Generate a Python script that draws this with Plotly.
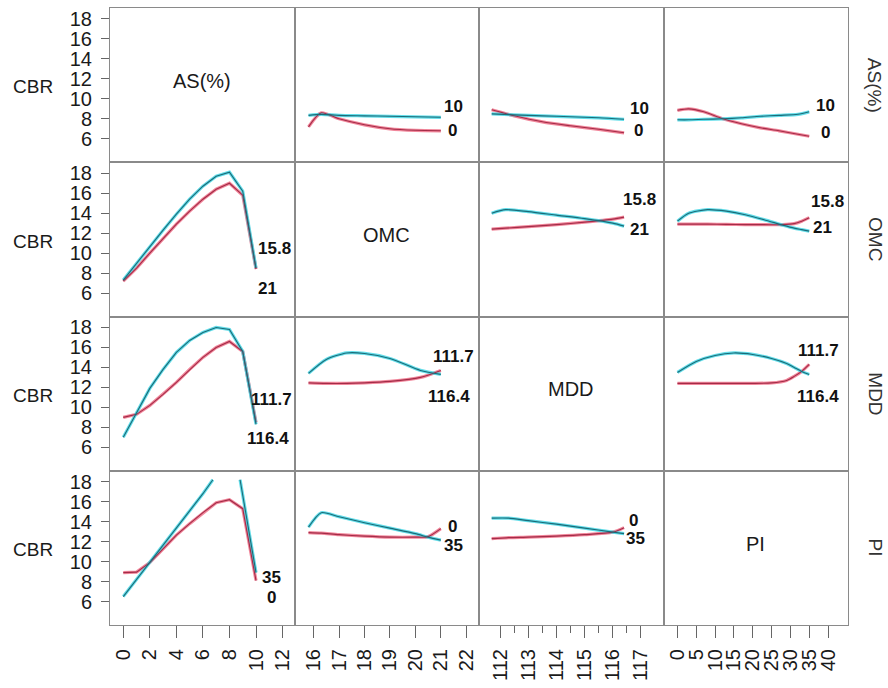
import plotly.graph_objects as go
from plotly.subplots import make_subplots

# ---------------- data ----------------
factors = ["AS(%)", "OMC", "MDD", "PI"]
response = "CBR"
level_low = ["0", "15.8", "111.7", "0"]      # red curves
level_high = ["10", "21", "116.4", "35"]     # cyan curves

ticks_as = [0, 2, 4, 6, 8, 10, 12]
ticks_omc = [16, 17, 18, 19, 20, 21, 22]
ticks_mdd = [112, 113, 114, 115, 116, 117]
ticks_mdd_minor = [112.5, 113.5, 114.5, 115.5, 116.5]
ticks_pi = [0, 5, 10, 15, 20, 25, 30, 35, 40]
ticks_cbr = [6, 8, 10, 12, 14, 16, 18]

as_x = [0, 1, 2, 3, 4, 5, 6, 7, 8, 9, 10]

# row AS(%)
as_omc_x = [15.8, 16.3, 17, 18, 19, 20, 21]
as_omc_low = [7.2, 8.6, 8.0, 7.4, 7.0, 6.85, 6.8]
as_omc_high = [8.35, 8.45, 8.35, 8.3, 8.25, 8.2, 8.15]
as_mdd_x = [111.7, 112.5, 113.5, 114.5, 115.5, 116.4]
as_mdd_low = [8.9, 8.3, 7.7, 7.3, 6.95, 6.6]
as_mdd_high = [8.5, 8.4, 8.3, 8.2, 8.1, 7.95]
as_pi_x = [0, 3, 7, 12, 17, 22, 27, 32, 35]
as_pi_low = [8.85, 9.0, 8.7, 8.0, 7.5, 7.1, 6.8, 6.45, 6.25]
as_pi_high = [7.9, 7.9, 7.95, 8.0, 8.1, 8.25, 8.35, 8.45, 8.7]

# row OMC
omc_as_low = [7.2, 8.5, 10.0, 11.5, 12.9, 14.2, 15.4, 16.4, 17.0, 15.8, 8.4]
omc_as_high = [7.3, 9.0, 10.7, 12.3, 13.9, 15.4, 16.7, 17.7, 18.1, 16.2, 8.5]
omc_mdd_x = [111.7, 112.2, 113, 114, 115, 116, 116.4]
omc_mdd_low = [12.4, 12.5, 12.65, 12.85, 13.1, 13.4, 13.6]
omc_mdd_high = [14.0, 14.35, 14.15, 13.8, 13.45, 13.0, 12.7]
omc_pi_x = [0, 3, 8, 13, 18, 23, 28, 31, 33, 35]
omc_pi_low = [12.9, 12.9, 12.9, 12.88, 12.85, 12.85, 12.85, 12.95, 13.2, 13.55]
omc_pi_high = [13.2, 14.0, 14.35, 14.2, 13.85, 13.35, 12.8, 12.5, 12.35, 12.2]

# row MDD
mdd_as_low = [9.0, 9.3, 10.2, 11.3, 12.5, 13.8, 15.0, 16.0, 16.6, 15.6, 8.5]
mdd_as_high = [7.0, 9.5, 11.9, 13.8, 15.5, 16.7, 17.5, 18.0, 17.8, 15.6, 8.3]
mdd_omc_x = [15.8, 16.5, 17.3, 18, 19, 20.2, 21]
mdd_omc_low = [12.45, 12.4, 12.4, 12.45, 12.6, 13.0, 13.7]
mdd_omc_high = [13.4, 14.8, 15.45, 15.4, 14.9, 13.7, 13.3]
mdd_pi_x = [0, 5, 10, 15, 20, 25, 29, 31, 33, 35]
mdd_pi_low = [12.4, 12.4, 12.4, 12.4, 12.4, 12.45, 12.7, 13.1, 13.6, 14.3]
mdd_pi_high = [13.5, 14.6, 15.2, 15.45, 15.3, 14.9, 14.4, 14.0, 13.6, 13.3]

# row PI (cyan goes off the top of the chart between AS 6.75 and 8.8)
pi_as_low = [8.9, 8.95, 9.9, 11.3, 12.65, 13.8, 14.9, 15.9, 16.2, 15.3, 8.1]
pi_as_high_x = [0, 1, 2, 3, 4, 5, 6, 6.75, 8, 8.8, 10]
pi_as_high = [6.5, 8.2, 10.0, 11.7, 13.4, 15.1, 16.8, 18.2, None, 18.2, 8.9]
pi_omc_x = [15.8, 16.3, 17, 18, 19, 20, 20.5, 21]
pi_omc_low = [12.9, 12.85, 12.7, 12.55, 12.45, 12.45, 12.5, 13.3]
pi_omc_high = [13.45, 14.9, 14.5, 13.9, 13.35, 12.8, 12.45, 12.15]
pi_mdd_x = [111.7, 112.3, 113, 114, 115, 116, 116.4]
pi_mdd_low = [12.3, 12.4, 12.45, 12.55, 12.7, 12.95, 13.4]
pi_mdd_high = [14.35, 14.35, 14.1, 13.75, 13.35, 12.95, 12.8]

# (row, col): (x for red, red values, x for cyan, cyan values)
panels = {
    (1, 2): (as_omc_x, as_omc_low, as_omc_x, as_omc_high),
    (1, 3): (as_mdd_x, as_mdd_low, as_mdd_x, as_mdd_high),
    (1, 4): (as_pi_x, as_pi_low, as_pi_x, as_pi_high),
    (2, 1): (as_x, omc_as_low, as_x, omc_as_high),
    (2, 3): (omc_mdd_x, omc_mdd_low, omc_mdd_x, omc_mdd_high),
    (2, 4): (omc_pi_x, omc_pi_low, omc_pi_x, omc_pi_high),
    (3, 1): (as_x, mdd_as_low, as_x, mdd_as_high),
    (3, 2): (mdd_omc_x, mdd_omc_low, mdd_omc_x, mdd_omc_high),
    (3, 4): (mdd_pi_x, mdd_pi_low, mdd_pi_x, mdd_pi_high),
    (4, 1): (as_x, pi_as_low, pi_as_high_x, pi_as_high),
    (4, 2): (pi_omc_x, pi_omc_low, pi_omc_x, pi_omc_high),
    (4, 3): (pi_mdd_x, pi_mdd_low, pi_mdd_x, pi_mdd_high),
}

# ---------------- styling / layout ----------------
FONT = "Liberation Sans, Arial, sans-serif"
GLOW = {"low": "rgba(238,105,130,0.8)", "high": "rgba(60,212,228,0.8)"}
CORE = {"low": "#a42c48", "high": "#1b6b78"}
BORDER = "#8a8a8a"

x_ranges = [[-1.0, 12.9], [15.25, 22.5], [111.25, 117.8], [-3.7, 45.3]]
x_ticks = [ticks_as, ticks_omc, ticks_mdd, ticks_pi]
y_range = [3.65, 19.1]

fig = make_subplots(rows=4, cols=4, horizontal_spacing=0, vertical_spacing=0)

for (r, c), (xl, lo, xh, hi) in panels.items():
    shape = "linear" if c == 1 else "spline"
    for key, xs, ys in (("low", xl, lo), ("high", xh, hi)):
        fig.add_trace(go.Scatter(x=xs, y=ys, mode="lines", connectgaps=False,
                                 line=dict(color=GLOW[key], width=3.2, shape=shape, smoothing=0.7),
                                 hoverinfo="skip", showlegend=False), row=r, col=c)
    for key, xs, ys in (("low", xl, lo), ("high", xh, hi)):
        fig.add_trace(go.Scatter(x=xs, y=ys, mode="lines", connectgaps=False,
                                 line=dict(color=CORE[key], width=1.1, shape=shape, smoothing=0.7),
                                 hoverinfo="skip", showlegend=False), row=r, col=c)

for r in range(1, 5):
    for c in range(1, 5):
        xa = dict(range=x_ranges[c - 1], showline=True, mirror=True, linecolor=BORDER,
                  linewidth=1, showgrid=False, zeroline=False,
                  tickvals=x_ticks[c - 1], showticklabels=(r == 4),
                  ticks="outside" if r == 4 else "", ticklen=12, tickwidth=1,
                  tickcolor="#666", tickangle=-90, ticklabelstandoff=3,
                  tickfont=dict(family=FONT, size=20, color="#1a1a1a"))
        if c == 3 and r == 4:
            xa["minor"] = dict(tickvals=ticks_mdd_minor, ticks="outside", ticklen=7,
                               tickcolor="#666", tickwidth=1)
        ya = dict(range=y_range, showline=True, mirror=True, linecolor=BORDER,
                  linewidth=1, showgrid=False, zeroline=False,
                  tickvals=ticks_cbr, showticklabels=(c == 1),
                  ticks="outside" if c == 1 else "", ticklen=8, tickwidth=1,
                  tickcolor="#666", ticklabelstandoff=5,
                  tickfont=dict(family=FONT, size=20, color="#1a1a1a"))
        fig.update_xaxes(xa, row=r, col=c)
        fig.update_yaxes(ya, row=r, col=c)

ann = []


def axref(r, c):
    i = (r - 1) * 4 + c
    s = "" if i == 1 else str(i)
    return "x" + s, "y" + s


# diagonal titles, left response labels, right factor labels
for k, name in enumerate(factors):
    xr, yr = axref(k + 1, k + 1)
    xm = sum(x_ranges[k]) / 2
    ann.append(dict(x=xm, y=11.8, xref=xr, yref=yr, text=name, showarrow=False,
                    xanchor="center", yanchor="middle",
                    font=dict(family=FONT, size=20, color="#1a1a1a")))
    ann.append(dict(x=-0.104, y=11.2, xref="paper", yref=yr, text=response, showarrow=False,
                    xanchor="center", yanchor="middle",
                    font=dict(family=FONT, size=19, color="#1a1a1a")))
    ann.append(dict(x=1.037, y=(y_range[0] + y_range[1]) / 2, xref="paper", yref=yr,
                    text=name, showarrow=False, textangle=90,
                    xanchor="center", yanchor="middle",
                    font=dict(family=FONT, size=19, color="#333")))

# level labels at the ends of the curves: (x_low, y_low, x_high, y_high)
label_pos = {
    (1, 2): (21.45, 6.82, 21.48, 9.2),
    (1, 3): (116.9, 6.82, 116.94, 9.05),
    (1, 4): (39.3, 6.66, 39.2, 9.38),
    (2, 1): (11.36, 10.43, 10.9, 6.5),
    (2, 3): (116.96, 15.35, 116.96, 12.4),
    (2, 4): (39.9, 15.2, 38.6, 12.6),
    (3, 1): (11.14, 10.8, 10.9, 6.86),
    (3, 2): (21.48, 15.05, 21.34, 11.1),
    (3, 4): (37.4, 15.7, 37.4, 11.05),
    (4, 1): (11.14, 6.45, 11.2, 8.4),
    (4, 2): (21.44, 13.5, 21.48, 11.6),
    (4, 3): (116.75, 14.15, 116.82, 12.3),
}
for (r, c), (xl, yl, xh, yh) in label_pos.items():
    xr, yr = axref(r, c)
    k = r - 1
    ann.append(dict(x=xl, y=yl, xref=xr, yref=yr, text="<b>%s</b>" % level_low[k],
                    showarrow=False, xanchor="center", yanchor="middle",
                    font=dict(family=FONT, size=17, color="#111")))
    ann.append(dict(x=xh, y=yh, xref=xr, yref=yr, text="<b>%s</b>" % level_high[k],
                    showarrow=False, xanchor="center", yanchor="middle",
                    font=dict(family=FONT, size=17, color="#111")))

fig.update_layout(width=888, height=688, margin=dict(l=110, r=40, t=7, b=48),
                  paper_bgcolor="white", plot_bgcolor="white",
                  annotations=ann, showlegend=False, font=dict(family=FONT))

fig.write_html("out.html", config={"displayModeBar": False},
               post_script="document.body.style.margin='0px';")
